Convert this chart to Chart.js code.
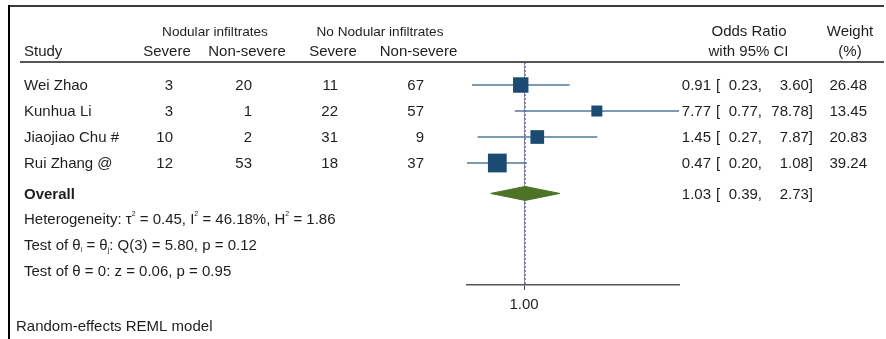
<!DOCTYPE html>
<html>
<head>
<meta charset="utf-8">
<script src="https://cdn.jsdelivr.net/npm/chart.js@4.4.0/dist/chart.umd.min.js"></script>
<style>
  html, body { margin: 0; padding: 0; background: #fff; }
  #wrap { width: 886px; height: 339px; position: relative; }
</style>
</head>
<body>
<div id="wrap"><canvas id="c"></canvas></div>
<script>
// ---- data ----
const studies = ['Wei Zhao', 'Kunhua Li', 'Jiaojiao Chu #', 'Rui Zhang @'];
const nodSevere = [3, 3, 10, 12];
const nodNonSevere = [20, 1, 2, 53];
const noNodSevere = [11, 22, 31, 18];
const noNodNonSevere = [67, 57, 9, 37];
const oddsRatio = [0.91, 7.77, 1.45, 0.47];
const ciLower = [0.23, 0.77, 0.27, 0.20];
const ciUpper = [3.60, 78.78, 7.87, 1.08];
const weights = [26.48, 13.45, 20.83, 39.24];
const overallOR = 1.03;
const overallLower = 0.39;
const overallUpper = 2.73;
const xTickValues = [1];
const heterogeneity = { tau2: '0.45', i2: '46.18%', h2: '1.86' };
const testHomog = 'Q(3) = 5.80, p = 0.12';
const testEffect = 'z = 0.06, p = 0.95';
const modelNote = 'Random-effects REML model';

// ---- layout (row positions on the y scale) ----
const studyRows = [1, 2, 3, 4];
const overallRow = 5.17;
const statRows = [6.15, 7.15, 8.15];
const yMin = 0.115, yMax = 8.692;

const FONT = '"Liberation Sans", Arial, sans-serif';
const TXT = '#1e1e1e';
const TY = 1; // text vertical nudge

const datasets = [];
// CI lines
studies.forEach((s, i) => {
  datasets.push({
    data: [{ x: ciLower[i], y: studyRows[i] }, { x: ciUpper[i], y: studyRows[i] }],
    showLine: true, borderColor: '#56779a', borderWidth: 1.5, pointRadius: 0, order: 5
  });
});
// overall estimate dotted line
datasets.push({
  data: [{ x: overallOR, y: yMin }, { x: overallOR, y: yMax }],
  showLine: true, borderColor: '#5b5bf0', borderWidth: 1.2, borderDash: [2, 2], pointRadius: 0, order: 4
});
// weighted squares
datasets.push({
  data: oddsRatio.map((v, i) => ({ x: v, y: studyRows[i] })),
  showLine: false, pointStyle: 'rect',
  pointRadius: weights.map(w => 2.12 * Math.sqrt(w)),
  backgroundColor: '#1b4a73', borderColor: '#1b4a73', borderWidth: 0, order: 1
});
// overall diamond
const dh = 0.27;
datasets.push({
  data: [
    { x: overallLower, y: overallRow }, { x: overallOR, y: overallRow - dh },
    { x: overallUpper, y: overallRow }, { x: overallOR, y: overallRow + dh },
    { x: overallLower, y: overallRow }
  ],
  showLine: true, fill: 'shape', backgroundColor: '#4e7326', borderColor: '#4e7326',
  borderWidth: 1, pointRadius: 0, tension: 0, order: 0
});

function drawRich(ctx, parts, x, y) {
  let cx = x;
  parts.forEach(p => {
    ctx.font = (p.bold ? 'bold ' : '') + (p.size || 15) + 'px ' + FONT;
    ctx.fillText(p.t, cx, y + (p.dy || 0));
    cx += ctx.measureText(p.t).width;
  });
}

const textPlugin = {
  id: 'forestText',
  beforeDraw(chart) {
    const ctx = chart.ctx;
    ctx.save();
    ctx.fillStyle = '#fff';
    ctx.fillRect(0, 0, chart.width, chart.height);
    // frame
    ctx.fillStyle = '#3a3a3a';
    ctx.fillRect(8, 5, 876, 2);
    ctx.fillStyle = '#000';
    ctx.fillRect(8, 5, 2, chart.height - 5);
    ctx.restore();
  },
  afterDraw(chart) {
    const ctx = chart.ctx;
    const ys = chart.scales.y;
    const rowY = (r) => ys.getPixelForValue(r) + TY;
    ctx.save();
    ctx.fillStyle = TXT;
    ctx.textBaseline = 'middle';
    // headers
    ctx.textAlign = 'center';
    ctx.font = '13.6px ' + FONT;
    ctx.fillText('Nodular infiltrates', 215, 32);
    ctx.fillText('No Nodular infiltrates', 380, 32);
    ctx.font = '15px ' + FONT;
    ctx.fillText('Severe', 167, 52);
    ctx.fillText('Non-severe', 247, 52);
    ctx.fillText('Severe', 333, 52);
    ctx.fillText('Non-severe', 418.5, 52);
    ctx.fillText('Odds Ratio', 749, 32);
    ctx.fillText('with 95% CI', 748.5, 52);
    ctx.fillText('Weight', 850, 32);
    ctx.fillText('(%)', 850, 52);
    ctx.textAlign = 'left';
    ctx.fillText('Study', 24, 52);
    // rule
    ctx.fillStyle = '#555';
    ctx.fillRect(20, 61, 864, 2);
    ctx.fillStyle = TXT;

    // study rows
    studies.forEach((s, i) => {
      const y = rowY(studyRows[i]);
      ctx.font = '15px ' + FONT;
      ctx.textAlign = 'left';
      ctx.fillText(s, 24, y);
      ctx.textAlign = 'right';
      ctx.fillText(String(nodSevere[i]), 173, y);
      ctx.fillText(String(nodNonSevere[i]), 252, y);
      ctx.fillText(String(noNodSevere[i]), 338, y);
      ctx.fillText(String(noNodNonSevere[i]), 424, y);
      ctx.fillText(oddsRatio[i].toFixed(2), 711, y);
      ctx.textAlign = 'left';
      ctx.fillText('[', 716, y);
      ctx.textAlign = 'right';
      ctx.fillText(ciLower[i].toFixed(2) + ',', 762, y);
      ctx.fillText(ciUpper[i].toFixed(2) + ']', 813, y);
      ctx.fillText(weights[i].toFixed(2), 867, y);
    });
    // overall row
    const yo = rowY(overallRow);
    ctx.textAlign = 'left';
    ctx.font = 'bold 15px ' + FONT;
    ctx.fillText('Overall', 24, yo);
    ctx.font = '15px ' + FONT;
    ctx.textAlign = 'right';
    ctx.fillText(overallOR.toFixed(2), 711, yo);
    ctx.textAlign = 'left';
    ctx.fillText('[', 716, yo);
    ctx.textAlign = 'right';
    ctx.fillText(overallLower.toFixed(2) + ',', 762, yo);
    ctx.fillText(overallUpper.toFixed(2) + ']', 813, yo);

    // stats
    ctx.textAlign = 'left';
    drawRich(ctx, [
      { t: 'Heterogeneity: \u03C4' }, { t: '2', size: 7, dy: -6 },
      { t: ' = ' + heterogeneity.tau2 + ', I' }, { t: '2', size: 7, dy: -6 },
      { t: ' = ' + heterogeneity.i2 + ', H' }, { t: '2', size: 7, dy: -6 },
      { t: ' = ' + heterogeneity.h2 }
    ], 24, rowY(statRows[0]));
    drawRich(ctx, [
      { t: 'Test of \u03B8' }, { t: 'i', size: 7, dy: 4 },
      { t: ' = \u03B8' }, { t: 'j', size: 7, dy: 4 },
      { t: ': ' + testHomog }
    ], 24, rowY(statRows[1]));
    drawRich(ctx, [{ t: 'Test of \u03B8 = 0: ' + testEffect }], 24, rowY(statRows[2]));

    ctx.font = '15px ' + FONT;
    ctx.fillText(modelNote, 16, 327);
    ctx.restore();
  }
};

new Chart(document.getElementById('c'), {
  type: 'scatter',
  data: { datasets },
  options: {
    responsive: true,
    maintainAspectRatio: false,
    animation: false,
    events: [],
    layout: { padding: { left: 467, right: 207, top: 62, bottom: 0 } },
    plugins: { legend: { display: false }, tooltip: { enabled: false } },
    scales: {
      x: {
        type: 'logarithmic',
        min: Math.min(...ciLower),
        max: Math.max(...ciUpper),
        afterBuildTicks: (scale) => { scale.ticks = xTickValues.map(v => ({ value: v })); },
        afterFit: (scale) => { scale.height = 54; },
        ticks: {
          autoSkip: false, maxRotation: 0, padding: 6, color: TXT,
          font: { size: 15, family: FONT },
          callback: (v) => Number(v).toFixed(2)
        },
        grid: { drawOnChartArea: true, color: '#8a8f96', lineWidth: 1, tickLength: 5, tickColor: '#444' },
        border: { display: true, color: '#555', width: 1.5 }
      },
      y: {
        type: 'linear', display: false, reverse: true, min: yMin, max: yMax
      }
    }
  },
  plugins: [textPlugin]
});
</script>
</body>
</html>
